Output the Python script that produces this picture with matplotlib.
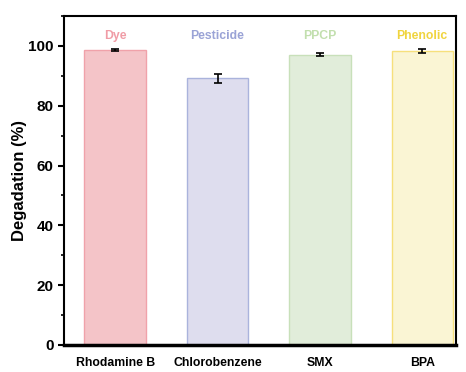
import numpy as np
import matplotlib.pyplot as plt
from matplotlib.ticker import MultipleLocator

plt.rcParams['font.family'] = ['Liberation Sans', 'DejaVu Sans']
plt.rcParams['font.weight'] = 'bold'

samples = ['Rhodamine B', 'Chlorobenzene', 'SMX', 'BPA']
classes = ['Dye', 'Pesticide', 'PPCP', 'Phenolic']
degradation = [98.6, 89.2, 97.0, 98.3]
errors = [0.3, 1.5, 0.5, 0.7]

fills = ['#F4C4C8', '#DEDDEE', '#E1EDDA', '#FAF5D4']
edges = ['#F0A2AA', '#AAB3DC', '#C8E0BA', '#F6E07C']
label_colors = ['#F09CA6', '#9AA3D6', '#C2DFAE', '#F0D43E']

fig = plt.figure(figsize=(4.66, 3.72), dpi=100)
ax = fig.add_axes([64/466, 27/372, 392/466, 329/372])

x = np.arange(len(samples))
ax.bar(x, degradation, width=0.6, color=fills, edgecolor=edges, linewidth=1.0,
       yerr=errors, capsize=3, error_kw=dict(elinewidth=1.2, capthick=1.2, ecolor='black'))

for xi, name, c in zip(x, classes, label_colors):
    ax.text(xi, 103.3, name, ha='center', va='center', color=c, fontsize=8.8, fontweight='bold')

ax.set_xlim(-0.5, 3.33)
ax.set_ylim(0, 110)
ax.set_xticks(x)
ax.set_xticklabels(samples, fontsize=8.8, fontweight='bold')
ax.tick_params(axis='x', length=0, pad=9)
ax.yaxis.set_major_locator(MultipleLocator(20))
ax.yaxis.set_minor_locator(MultipleLocator(10))
ax.tick_params(axis='y', which='major', length=4, width=1.5, labelsize=11)
ax.tick_params(axis='y', which='minor', length=2.5, width=1.2)
ax.set_ylabel('Degadation (%)', fontsize=12, fontweight='bold', labelpad=1)
for lbl in ax.get_yticklabels():
    lbl.set_fontweight('bold')
for s in ax.spines.values():
    s.set_linewidth(1.5)
ax.spines['bottom'].set_linewidth(2.5)

fig.savefig('out.png', dpi=100)
